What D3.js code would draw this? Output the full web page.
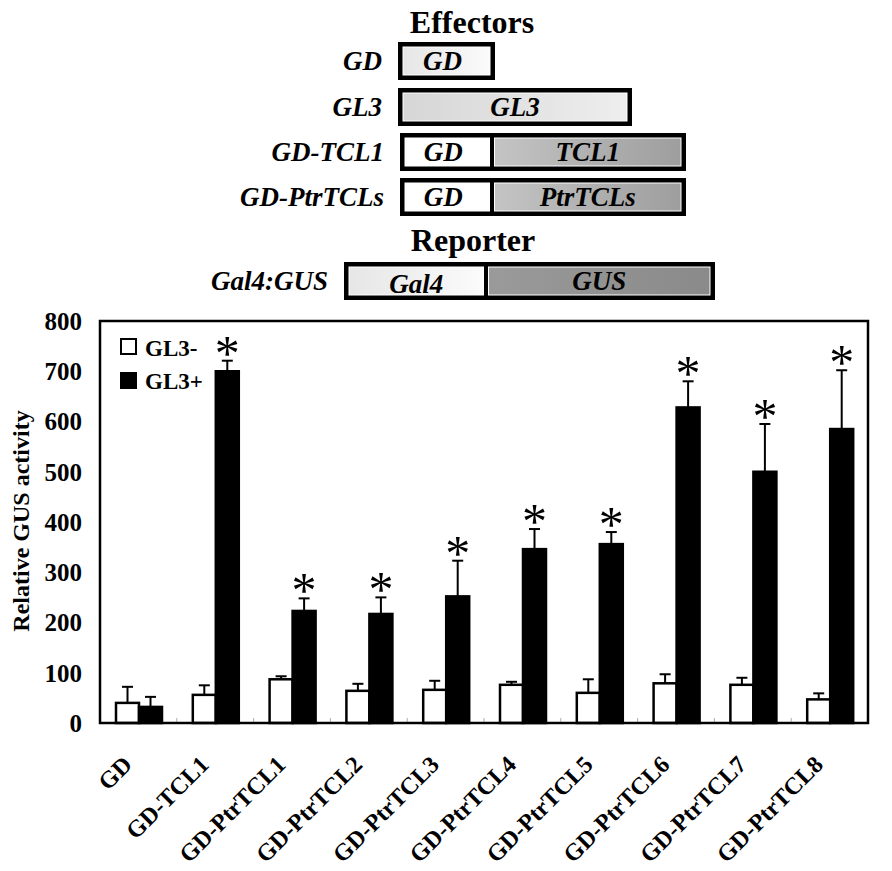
<!DOCTYPE html>
<html>
<head>
<meta charset="utf-8">
<script src="https://cdn.jsdelivr.net/npm/d3@7"></script>
<style>
html,body{margin:0;padding:0;background:#fff;}
svg{display:block;}
</style>
</head>
<body>
<svg id="chart" width="892" height="871"></svg>
<script>
// ---------- data ----------
const categories = ["GD","GD-TCL1","GD-PtrTCL1","GD-PtrTCL2","GD-PtrTCL3","GD-PtrTCL4","GD-PtrTCL5","GD-PtrTCL6","GD-PtrTCL7","GD-PtrTCL8"];
const seriesNames = ["GL3-","GL3+"];
const gl3Minus    = [40, 56, 87, 64, 66, 76, 60, 79, 76, 47];
const gl3MinusErr = [32, 19, 6, 14, 18, 6, 27, 18, 14, 12];
const gl3Plus     = [32, 700, 223, 217, 252, 346, 356, 628, 500, 585];
const gl3PlusErr  = [20, 21, 25, 33, 71, 40, 24, 52, 95, 117];
const significant = [false, true, true, true, true, true, true, true, true, true];
const yTicks = [0,100,200,300,400,500,600,700,800];
const yLabel = "Relative GUS activity";

// schematic constructs (part names and relative lengths)
const effectorTitle = "Effectors";
const reporterTitle = "Reporter";
const constructNames = ["GD","GL3","GD-TCL1","GD-PtrTCLs","Gal4:GUS"];
const constructParts = [
  [{name:"GD", len:97, tone:"pale"}],
  [{name:"GL3", len:234, tone:"light"}],
  [{name:"GD", len:92, tone:"white"},{name:"TCL1", len:194, tone:"mid"}],
  [{name:"GD", len:92, tone:"white"},{name:"PtrTCLs", len:194, tone:"mid"}],
  [{name:"Gal4", len:142, tone:"pale"},{name:"GUS", len:229, tone:"dark"}]
];
const constructStart = [0, 0, 2, 2, -54];

// ---------- drawing ----------
const svg = d3.select("#chart");
const FONT = "'Liberation Serif','Times New Roman',Times,serif";

const defs = svg.append("defs");
const tones = {
  white: ["#ffffff","#ffffff"],
  pale:  ["#e6e6e6","#fbfbfb"],
  light: ["#d6d6d6","#eeeeee"],
  mid:   ["#c4c4c4","#9e9e9e"],
  dark:  ["#9a9a9a","#8a8a8a"]
};
Object.entries(tones).forEach(([k,c])=>{
  const g = defs.append("linearGradient").attr("id","g-"+k).attr("x1","0").attr("x2","1").attr("y1","0").attr("y2","0");
  g.append("stop").attr("offset","0%").attr("stop-color",c[0]);
  g.append("stop").attr("offset","100%").attr("stop-color",c[1]);
});

// schematic
const sx = d3.scaleLinear().domain([0,1]).range([398,399]); // 1 unit = 1 px, origin at 398
const rowY = d3.scaleOrdinal().domain(constructNames).range([42, 88, 133, 178, 262]);
const rowH = 38;
const border = 5;

svg.append("text").attr("x",472).attr("y",33).attr("text-anchor","middle")
  .attr("font-family",FONT).attr("font-weight","bold").attr("font-size",32).text(effectorTitle);
svg.append("text").attr("x",473).attr("y",251).attr("text-anchor","middle")
  .attr("font-family",FONT).attr("font-weight","bold").attr("font-size",32).text(reporterTitle);

constructNames.forEach((nm,i)=>{
  const y0 = rowY(nm);
  const parts = constructParts[i];
  const total = d3.sum(parts,p=>p.len);
  const x0 = sx(constructStart[i]);
  const x1 = sx(constructStart[i]+total);
  const g = svg.append("g");
  g.append("rect").attr("x",x0).attr("y",y0).attr("width",x1-x0).attr("height",rowH).attr("fill","#000");
  let acc = constructStart[i];
  parts.forEach((p,j)=>{
    const a = sx(acc), b = sx(acc+p.len);
    const left = a + (j===0 ? border : 2.5);
    const right = b - (j===parts.length-1 ? border : 2.5);
    g.append("rect").attr("x",left).attr("y",y0+border).attr("width",right-left).attr("height",rowH-2*border)
      .attr("fill","url(#g-"+p.tone+")").attr("stroke","#fff").attr("stroke-width",1);
    g.append("text").attr("x",(left+right)/2 - (p.name==="GD"?4:0)).attr("y",y0+rowH/2+ (p.name==="Gal4"?12:9))
      .attr("text-anchor","middle").attr("font-family",FONT).attr("font-weight","bold").attr("font-style","italic")
      .attr("font-size",27).text(p.name);
    acc += p.len;
  });
  g.append("text").attr("x", x0 - 16).attr("y", y0+rowH/2+9).attr("text-anchor","end")
    .attr("font-family",FONT).attr("font-weight","bold").attr("font-style","italic").attr("font-size",27).text(nm);
});

// bar chart
const L = 100, R = 868, T = 321, B = 723;
const x = d3.scaleBand().domain(categories).range([L,R]).padding(0);
const xs = d3.scaleBand().domain(seriesNames).range([16, 62]).padding(0);
const y = d3.scaleLinear().domain([0,800]).range([B,T]);

// group separator ticks
svg.append("g").selectAll("line").data(categories.slice(1)).join("line")
  .attr("x1",d=>x(d)).attr("x2",d=>x(d)).attr("y1",B).attr("y2",B-5)
  .attr("stroke","#aaa").attr("stroke-width",1);

const rows = categories.map((c,i)=>({c, vals:[
  {s:"GL3-", v:gl3Minus[i], e:gl3MinusErr[i], fill:"#fff"},
  {s:"GL3+", v:gl3Plus[i], e:gl3PlusErr[i], fill:"#000"}
], sig:significant[i]}));

const grp = svg.append("g").selectAll("g").data(rows).join("g")
  .attr("transform",d=>`translate(${x(d.c)},0)`);

// error bars (upper only)
grp.selectAll("g.err").data(d=>d.vals).join("g").attr("class","err").each(function(d){
  const g = d3.select(this);
  const cx = xs(d.s)+xs.bandwidth()/2;
  g.append("line").attr("x1",cx).attr("x2",cx).attr("y1",y(d.v)).attr("y2",y(d.v+d.e)).attr("stroke","#000").attr("stroke-width",2);
  g.append("line").attr("x1",cx-5.5).attr("x2",cx+5.5).attr("y1",y(d.v+d.e)).attr("y2",y(d.v+d.e)).attr("stroke","#000").attr("stroke-width",2);
});

grp.selectAll("rect.bar").data(d=>d.vals).join("rect").attr("class","bar")
  .attr("x",d=>xs(d.s)).attr("width",xs.bandwidth())
  .attr("y",d=>y(d.v)).attr("height",d=>y(0)-y(d.v))
  .attr("fill",d=>d.fill).attr("stroke","#000").attr("stroke-width",2.5);

// asterisks
grp.filter(d=>d.sig).append("text")
  .attr("x",xs("GL3+")+xs.bandwidth()/2)
  .attr("y",d=>y(d.vals[1].v+d.vals[1].e)+9)
  .attr("text-anchor","middle").attr("font-family",FONT).attr("font-size",50).text("*");

// frame
svg.append("rect").attr("x",L).attr("y",T).attr("width",R-L).attr("height",B-T)
  .attr("fill","none").attr("stroke","#000").attr("stroke-width",2.5);

// y tick labels
svg.append("g").selectAll("text").data(yTicks).join("text")
  .attr("x",82).attr("y",d=>y(d)).attr("dy","0.35em").attr("text-anchor","end")
  .attr("font-family",FONT).attr("font-weight","bold").attr("font-size",25).text(d=>d);

// y label
svg.append("text").attr("transform","translate(29,521) rotate(-90)").attr("text-anchor","middle")
  .attr("font-family",FONT).attr("font-weight","bold").attr("font-size",24).text(yLabel);

// x labels
svg.append("g").selectAll("text").data(categories).join("text")
  .attr("transform",d=>`translate(${x(d)+x.bandwidth()/2-5},766) rotate(-45)`)
  .attr("text-anchor","end").attr("font-family",FONT).attr("font-weight","bold").attr("font-size",24).text(d=>d);

// legend
const leg = svg.append("g");
seriesNames.forEach((s,i)=>{
  leg.append("rect").attr("x",121).attr("y",339+i*34).attr("width",15).attr("height",15)
    .attr("fill",i===0?"#fff":"#000").attr("stroke","#000").attr("stroke-width",2);
  leg.append("text").attr("x",145).attr("y",356+i*33).attr("font-family",FONT).attr("font-weight","bold")
    .attr("font-size",23).text(s);
});
</script>
</body>
</html>
